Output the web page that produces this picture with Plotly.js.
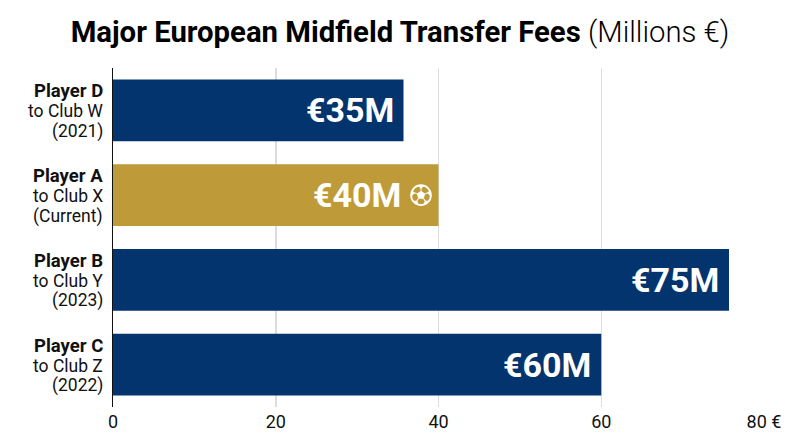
<!DOCTYPE html>
<html>
<head>
<meta charset="utf-8">
<script src="https://cdn.plot.ly/plotly-3.0.1.min.js"></script>
<style>html,body{margin:0;padding:0;background:#fff}</style>
</head>
<body>
<div id="chart" style="width:800px;height:447px"></div>
<script>
const players = ["Player D", "Player A", "Player B", "Player C"];
const moves = ["to Club W", "to Club X", "to Club Y", "to Club Z"];
const periods = ["(2021)", "(Current)", "(2023)", "(2022)"];
const fees = [35.7, 40, 75.7, 60];
const feeLabels = ["€35M", "€40M", "€75M", "€60M"];
const barColors = ["#03346e", "#bf9a38", "#03346e", "#03346e"];
const xTicks = [0, 20, 40, 60, 80];
const xTickLabels = ["0", "20", "40", "60", "80 €"];
const labelShift = [-8, -36, -8, -8];

const annotations = fees.map((f, i) => ({
  x: f, y: players[i], xref: "x", yref: "y", text: `<b>${feeLabels[i]}</b>`,
  showarrow: false, xanchor: "right", yanchor: "middle", xshift: labelShift[i], yshift: 0,
  font: {family: "Roboto", size: 34, color: "#ffffff"}
}));
const rowLabel = (text, player, yshift, size) => ({
  x: 0, y: player, xref: "paper", yref: "y", text,
  showarrow: false, xanchor: "right", yanchor: "middle", xshift: -8, yshift,
  font: {family: "Roboto", size, color: "#111"}
});
players.forEach((p, i) => {
  annotations.push(rowLabel(`<b>${p}</b>`, p, 19, 18.5));
  annotations.push(rowLabel(moves[i], p, -1, 17.5));
  annotations.push(rowLabel(periods[i], p, -21, 17.5));
});

const ballSvg = `<svg xmlns="http://www.w3.org/2000/svg" viewBox="0 0 100 100">
<circle cx="50" cy="50" r="45" fill="none" stroke="#fff" stroke-width="8"/>
<polygon points="50,30 69,44 62,66 38,66 31,44" fill="#fff"/>
<g stroke="#fff" stroke-width="5"><line x1="50" y1="30" x2="50" y2="14"/><line x1="69" y1="44" x2="84" y2="38"/><line x1="62" y1="66" x2="71" y2="80"/><line x1="38" y1="66" x2="29" y2="80"/><line x1="31" y1="44" x2="16" y2="38"/></g>
<g fill="#fff"><polygon points="32,6 68,6 50,20"/><polygon points="90,22 98,62 80,42"/><polygon points="86,76 56,97 70,76"/><polygon points="14,76 44,97 30,76"/><polygon points="10,22 2,62 20,42"/></g>
</svg>`;

Plotly.newPlot("chart", [{
  type: "bar", orientation: "h", x: fees, y: players,
  marker: {color: barColors, line: {width: 0}},
  hoverinfo: "skip"
}], {
  width: 800, height: 447,
  margin: {l: 113, r: 36, t: 67.5, b: 39.5, pad: 0},
  paper_bgcolor: "#fff", plot_bgcolor: "#fff",
  bargap: 0.27,
  showlegend: false,
  title: {
    text: '<b>Major European Midfield Transfer Fees</b> <span style="font-weight:300">(Millions €)</span>',
    x: 0.5, xanchor: "center", y: 0.93, yanchor: "middle",
    font: {family: "Roboto", size: 29.3, color: "#000"}
  },
  xaxis: {
    range: [0, 80], tickvals: xTicks, ticktext: xTickLabels, ticks: "",
    showgrid: true, gridcolor: "#dddddd", gridwidth: 1.5, zeroline: false, showline: false,
    ticklabelstandoff: 2,
    tickfont: {family: "Roboto", size: 18, color: "#111"}
  },
  yaxis: {
    autorange: "reversed", type: "category", ticks: "", showgrid: false, zeroline: false,
    showline: true, linecolor: "#111", linewidth: 1.5, showticklabels: false
  },
  images: [{
    source: "data:image/svg+xml;charset=utf-8," + encodeURIComponent(ballSvg),
    xref: "x", yref: "y", x: 39.2, y: 1, sizex: 2.7, sizey: 0.26,
    xanchor: "right", yanchor: "middle", sizing: "contain", layer: "above"
  }],
  annotations
}, {displayModeBar: false, staticPlot: true});
</script>
</body>
</html>
